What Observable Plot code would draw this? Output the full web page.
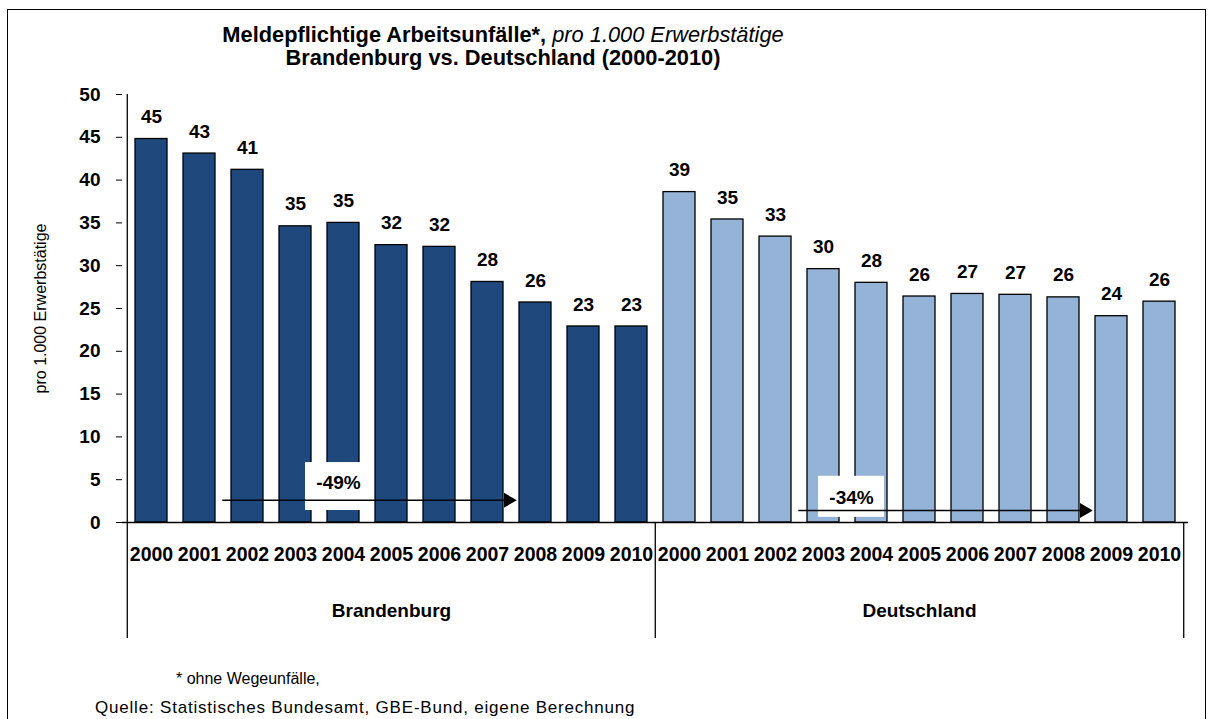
<!DOCTYPE html>
<html><head><meta charset="utf-8">
<script src="https://cdn.jsdelivr.net/npm/d3@7"></script>
<script src="https://cdn.jsdelivr.net/npm/@observablehq/plot@0.6"></script>
<style>
body{margin:0;background:#fff;font-family:"Liberation Sans",Arial,sans-serif;overflow:hidden;}
#wrap{position:relative;width:1214px;height:719px;overflow:hidden;}
#frame{position:absolute;left:7px;top:9px;width:1199px;height:760px;border:1px solid #000;box-sizing:border-box;}
#title{position:absolute;left:0;top:23px;width:1006px;text-align:center;font-size:21.8px;line-height:23px;color:#000;}
#chart{position:absolute;left:0;top:72px;}
.note{position:absolute;font-size:16px;color:#000;white-space:nowrap;}
</style></head><body>
<div id="wrap">
<div id="frame"></div>
<div id="title"><b>Meldepflichtige Arbeitsunfälle*,</b> <i>pro 1.000 Erwerbstätige</i><br><b>Brandenburg vs. Deutschland (2000-2010)</b></div>
<div id="chart"></div>
<div class="note" style="left:176px;top:670px">* ohne Wegeunfälle,</div>
<div class="note" style="left:95px;top:698px;font-size:17px;line-height:19px;letter-spacing:0.8px">Quelle: Statistisches Bundesamt, GBE-Bund, eigene Berechnung</div>
</div>
<script>
// ---- data ----
const groups = ["Brandenburg", "Deutschland"];
const years = ["2000","2001","2002","2003","2004","2005","2006","2007","2008","2009","2010"];
const brandenburg = [44.8, 43.1, 41.2, 34.6, 35.0, 32.4, 32.2, 28.1, 25.7, 22.9, 22.9];
const deutschland = [38.6, 35.4, 33.4, 29.6, 28.0, 26.4, 26.7, 26.6, 26.3, 24.1, 25.8];
const yTicks = [0, 5, 10, 15, 20, 25, 30, 35, 40, 45, 50];
const yLabel = "pro 1.000 Erwerbstätige";
// change annotations
const changeText = ["-49%", "-34%"];
const changeFromYear = ["2002", "2003"];
const changeToYear = ["2008", "2009"];
const changeArrowY = [2.6, 1.4];
const changeBoxYear = ["2004", "2004"];
const changeBoxY1 = [1.4, 0.6];
const changeBoxY2 = [7.0, 5.4];
const changeTextY = [4.6, 2.9];

// ---- build table ----
const seriesValues = [brandenburg, deutschland];
const rows = [];
groups.forEach((g, gi) => years.forEach((y, yi) => rows.push({key: g + "|" + y, group: g, year: y, value: seriesValues[gi][yi]})));
const keys = rows.map(d => d.key);
const annots = groups.map((g, i) => ({
  text: changeText[i],
  from: g + "|" + changeFromYear[i],
  to: g + "|" + changeToYear[i],
  y: changeArrowY[i],
  box: g + "|" + changeBoxYear[i],
  y1: changeBoxY1[i], y2: changeBoxY2[i], ty: changeTextY[i]
}));

const W = 1214, H = 580, ML = 122, MR = 26, MT = 22, MB = 130;
const half = (W - ML - MR) / keys.length / 2;
const boxDx = [-5, -20];
const font = '"Liberation Sans", Arial, sans-serif';

const chart = Plot.plot({
  width: W, height: H,
  marginLeft: ML, marginRight: MR, marginTop: MT, marginBottom: MB,
  style: {fontFamily: font, fontSize: "17px", color: "#000", background: "transparent", overflow: "visible"},
  x: {domain: keys, paddingInner: 0.333, paddingOuter: 0.1667, axis: null},
  y: {domain: [0, 50], axis: null},
  color: {domain: groups, range: ["#1F497D", "#95B3D7"]},
  marks: [
    Plot.barY(rows, {x: "key", y: "value", fill: "group", stroke: "#000", strokeWidth: 1.3}),
    Plot.text(rows, {x: "key", y: "value", text: d => String(Math.round(d.value)), dy: -22, fontWeight: "bold", fontSize: 19}),
    Plot.axisY({ticks: yTicks, tickSize: 6, tickPadding: 16, fontWeight: "bold", fontSize: 19, label: null, tickFormat: d => String(d)}),
    Plot.text([yLabel], {frameAnchor: "left", textAnchor: "middle", rotate: -90, dx: -82, fontSize: 16, fontWeight: "normal"}),
    Plot.axisX({tickSize: 0, tickPadding: 25, tickFormat: k => k.split("|")[1], fontWeight: "bold", fontSize: 19.5, label: null}),
    // y axis line
    Plot.ruleX([keys[0]], {x: d => d, dx: -half, y1: 0, y2: 50, stroke: "#000", strokeWidth: 1.3}),
    // group separators below axis
    Plot.ruleX([keys[0], groups[1] + "|" + years[0]], {x: d => d, dx: -half, y1: 0, y2: 0, insetBottom: -116, stroke: "#000", strokeWidth: 1.3}),
    Plot.ruleX([keys[keys.length - 1]], {x: d => d, dx: half, y1: 0, y2: 0, insetBottom: -116, stroke: "#000", strokeWidth: 1.3}),
    Plot.ruleY([0], {stroke: "#000", strokeWidth: 1.3}),
    Plot.text(groups, {x: g => g + "|" + years[5], frameAnchor: "bottom", dy: 94, fontWeight: "bold", fontSize: 19}),
    // annotations
    ...annots.flatMap((a, i) => [
      Plot.barY([a], {x: "box", y1: "y1", y2: "y2", fill: "white", insetLeft: -17, insetRight: -17, dx: boxDx[i]}),
      Plot.text([a], {x: "box", y: "ty", text: "text", dx: boxDx[i], fontWeight: "bold", fontSize: 19}),
      Plot.link([a], {x1: "from", x2: "to", y1: "y", y2: "y", dx: -half - 1, stroke: "#000", strokeWidth: 1.5}),
      Plot.dot([a], {x: "to", y: "y", dx: -half - 3, symbol: "triangle", r: 5.5, rotate: 90, fill: "#000", stroke: "none"})
    ])
  ]
});
document.getElementById("chart").appendChild(chart);
</script>
</body></html>
